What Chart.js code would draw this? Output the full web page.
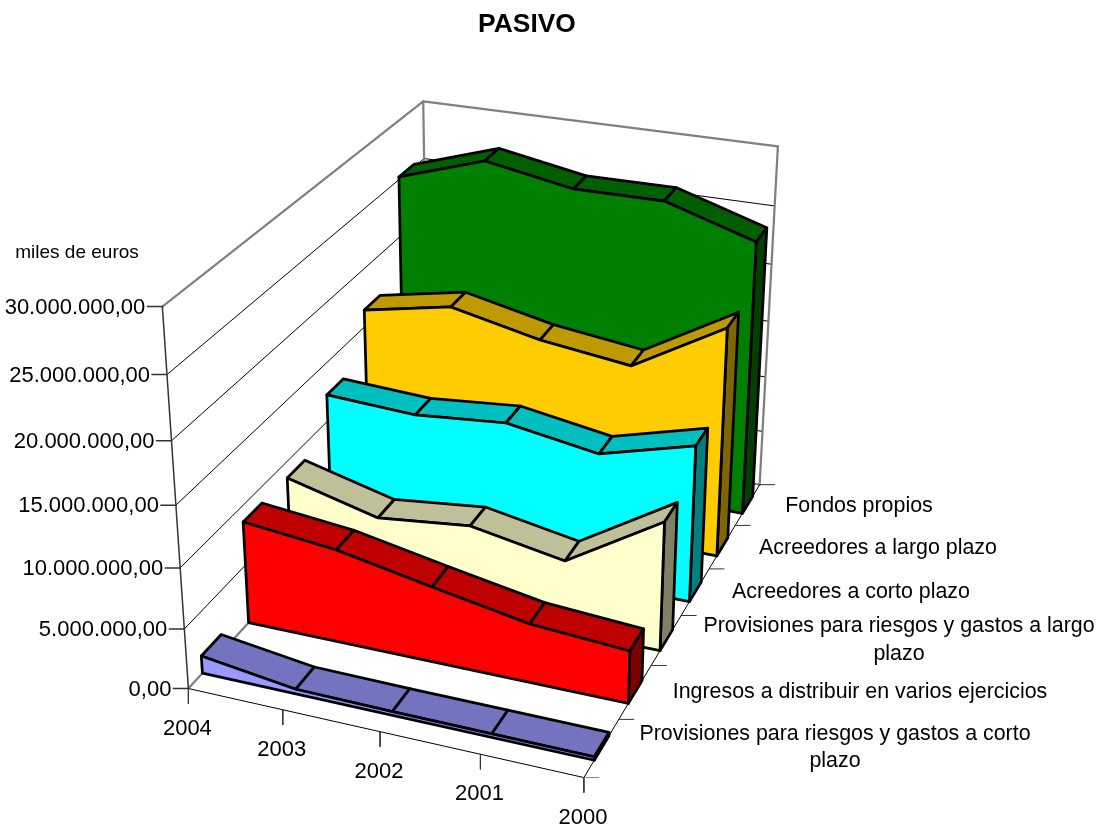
<!DOCTYPE html>
<html>
<head>
<meta charset="utf-8">
<title>PASIVO</title>
<script src="https://cdn.jsdelivr.net/npm/chart.js@4"></script>
<style>body{margin:0;background:#fff}canvas{display:block}</style>
</head>
<body>
<canvas id="grafico" width="1103" height="828"></canvas>
<script>
const anios = ['2004', '2003', '2002', '2001', '2000'];

// front to back, same order as on the depth axis
const provisionesCorto = [1470000, 400000, 320000, 300000, 280000];
const ingresosDistribuir = [8660000, 7850000, 6340000, 4910000, 4370000];
const provisionesLargo = [8620000, 6640000, 7470000, 6040000, 10840000];
const acreedoresCorto = [12280000, 11880000, 12550000, 11300000, 13380000];
const acreedoresLargo = [16470000, 17940000, 16310000, 15350000, 19800000];
const fondosPropios = [25230000, 27610000, 26260000, 26290000, 23950000];

const valorTicks = [0, 5000000, 10000000, 15000000, 20000000, 25000000, 30000000];
const valorLabels = ['0,00', '5.000.000,00', '10.000.000,00', '15.000.000,00', '20.000.000,00', '25.000.000,00', '30.000.000,00'];

const series = [provisionesCorto, ingresosDistribuir, provisionesLargo, acreedoresCorto, acreedoresLargo, fondosPropios];
const valorMax = valorTicks[valorTicks.length - 1];

// front, top, side
const colores = [
    ['#9999ff', '#7373bf', '#4d4d80'],
    ['#ff0000', '#bf0000', '#800000'],
    ['#ffffcc', '#bfbf99', '#808066'],
    ['#00ffff', '#00bfbf', '#008080'],
    ['#ffcc00', '#bf9900', '#806600'],
    ['#008000', '#006000', '#004000']
];

// series labels: [text, centre x, middle y]
const serieLabels = [
    ['Fondos propios', 859, 506],
    ['Acreedores a largo plazo', 878, 548],
    ['Acreedores a corto plazo', 851, 592],
    ['Provisiones para riesgos y gastos a largo', 899, 626],
    ['plazo', 899, 654],
    ['Ingresos a distribuir en varios ejercicios', 860, 692],
    ['Provisiones para riesgos y gastos a corto', 835, 734],
    ['plazo', 835, 761]
];

// perspective camera fitted to the box of the chart
const cam = [360.8058, -38.52268, 335.9067, 188.3876, 42.80256, -405.5293, -166.6178, 688.5326, -0.05944676, -0.07684599, 0.2246063];

function punto(cat, valor, prof) {
    const X = cat / (anios.length - 1), Y = valor / valorMax, Z = prof / series.length;
    const w = cam[8] * X + cam[9] * Y + cam[10] * Z + 1;
    return {
        x: (cam[0] * X + cam[1] * Y + cam[2] * Z + cam[3]) / w,
        y: (cam[4] * X + cam[5] * Y + cam[6] * Z + cam[7]) / w
    };
}

const datasets = [];
function agregar(data, color, ancho, relleno) {
    datasets.push({
        data: data,
        showLine: true,
        tension: 0,
        pointRadius: 0,
        borderColor: color,
        borderWidth: ancho,
        borderJoinStyle: 'round',
        borderCapStyle: 'round',
        fill: relleno ? 'shape' : false,
        backgroundColor: relleno || 'transparent',
        order: -datasets.length
    });
}

const ultimo = anios.length - 1;
const fondo = series.length;

// walls
valorTicks.forEach((t, i) => {
    const gris = i == 0 || i == valorTicks.length - 1;
    agregar([punto(0, t, 0), punto(0, t, fondo), punto(ultimo, t, fondo)], gris ? '#808080' : '#000000', gris ? 2.25 : 1);
});
agregar([punto(0, 0, fondo), punto(0, valorMax, fondo)], '#808080', 2.25);
agregar([punto(ultimo, 0, fondo), punto(ultimo, valorMax, fondo)], '#808080', 2.25);

// front axes and their ticks
agregar([punto(0, 0, 0), punto(0, valorMax, 0)], '#333333', 1.5);
agregar([punto(0, 0, 0), punto(ultimo, 0, 0), punto(ultimo, 0, fondo)], '#000000', 1);

valorTicks.forEach(t => {
    const p = punto(0, t, 0);
    agregar([p, { x: p.x - 15, y: p.y }], '#333333', 1.5);
});
anios.forEach((a, i) => {
    const p = punto(i, 0, 0);
    agregar([p, { x: p.x, y: p.y + 15 }], '#333333', 1);
});
for (let i = 0; i <= series.length; i++) {
    const p = punto(ultimo, 0, i);
    agregar([p, { x: p.x + 15, y: p.y }], i == 0 ? '#808080' : '#333333', 1);
}

// ribbons, back one first
for (let s = series.length - 1; s >= 0; s--) {
    const vals = series[s];
    const zf = s + 0.29, zb = s + 0.71;
    const [cFrente, cTecho, cLado] = colores[s];

    for (let k = 0; k < ultimo; k++) {
        const a = punto(k, vals[k], zf);
        agregar([a, punto(k + 1, vals[k + 1], zf), punto(k + 1, vals[k + 1], zb), punto(k, vals[k], zb), a], '#000000', 2.75, cTecho);
    }

    const b = punto(ultimo, 0, zf);
    agregar([b, punto(ultimo, vals[ultimo], zf), punto(ultimo, vals[ultimo], zb), punto(ultimo, 0, zb), b], '#000000', 2.75, cLado);

    const frente = vals.map((v, k) => punto(k, v, zf));
    frente.push(b, punto(0, 0, zf), frente[0]);
    agregar(frente, '#000000', 2.75, cFrente);
}

const textos = {
    id: 'textos',
    afterDatasetsDraw(chart) {
        const { ctx, scales } = chart;
        const fam = '"Liberation Sans", Arial, sans-serif';
        const px = p => ({ x: scales.x.getPixelForValue(p.x), y: scales.y.getPixelForValue(p.y) });
        ctx.save();
        ctx.fillStyle = '#000';
        ctx.textBaseline = 'middle';

        ctx.textAlign = 'center';
        ctx.font = 'bold 26.4px ' + fam;
        ctx.fillText('PASIVO', 527, 25);

        ctx.font = '19px ' + fam;
        ctx.fillText('miles de euros', 77, 253);

        ctx.font = '22px ' + fam;
        anios.forEach((a, i) => {
            const p = px(punto(i, 0, 0));
            ctx.fillText(a, p.x - 1, p.y + 40);
        });

        ctx.font = '21.4px ' + fam;
        serieLabels.forEach(l => ctx.fillText(l[0], l[1], l[2]));

        ctx.font = '22px ' + fam;
        ctx.textAlign = 'right';
        valorTicks.forEach((t, i) => {
            const p = px(punto(0, t, 0));
            ctx.fillText(valorLabels[i], p.x - 17, p.y + 1);
        });
        ctx.restore();
    }
};

new Chart(document.getElementById('grafico'), {
    type: 'scatter',
    data: { datasets: datasets },
    options: {
        animation: false,
        responsive: false,
        layout: { padding: 0 },
        plugins: { legend: { display: false }, tooltip: { enabled: false } },
        scales: {
            x: { display: false, min: 0, max: 1103 },
            y: { display: false, min: 0, max: 828, reverse: true }
        }
    },
    plugins: [textos]
});
</script>
</body>
</html>
